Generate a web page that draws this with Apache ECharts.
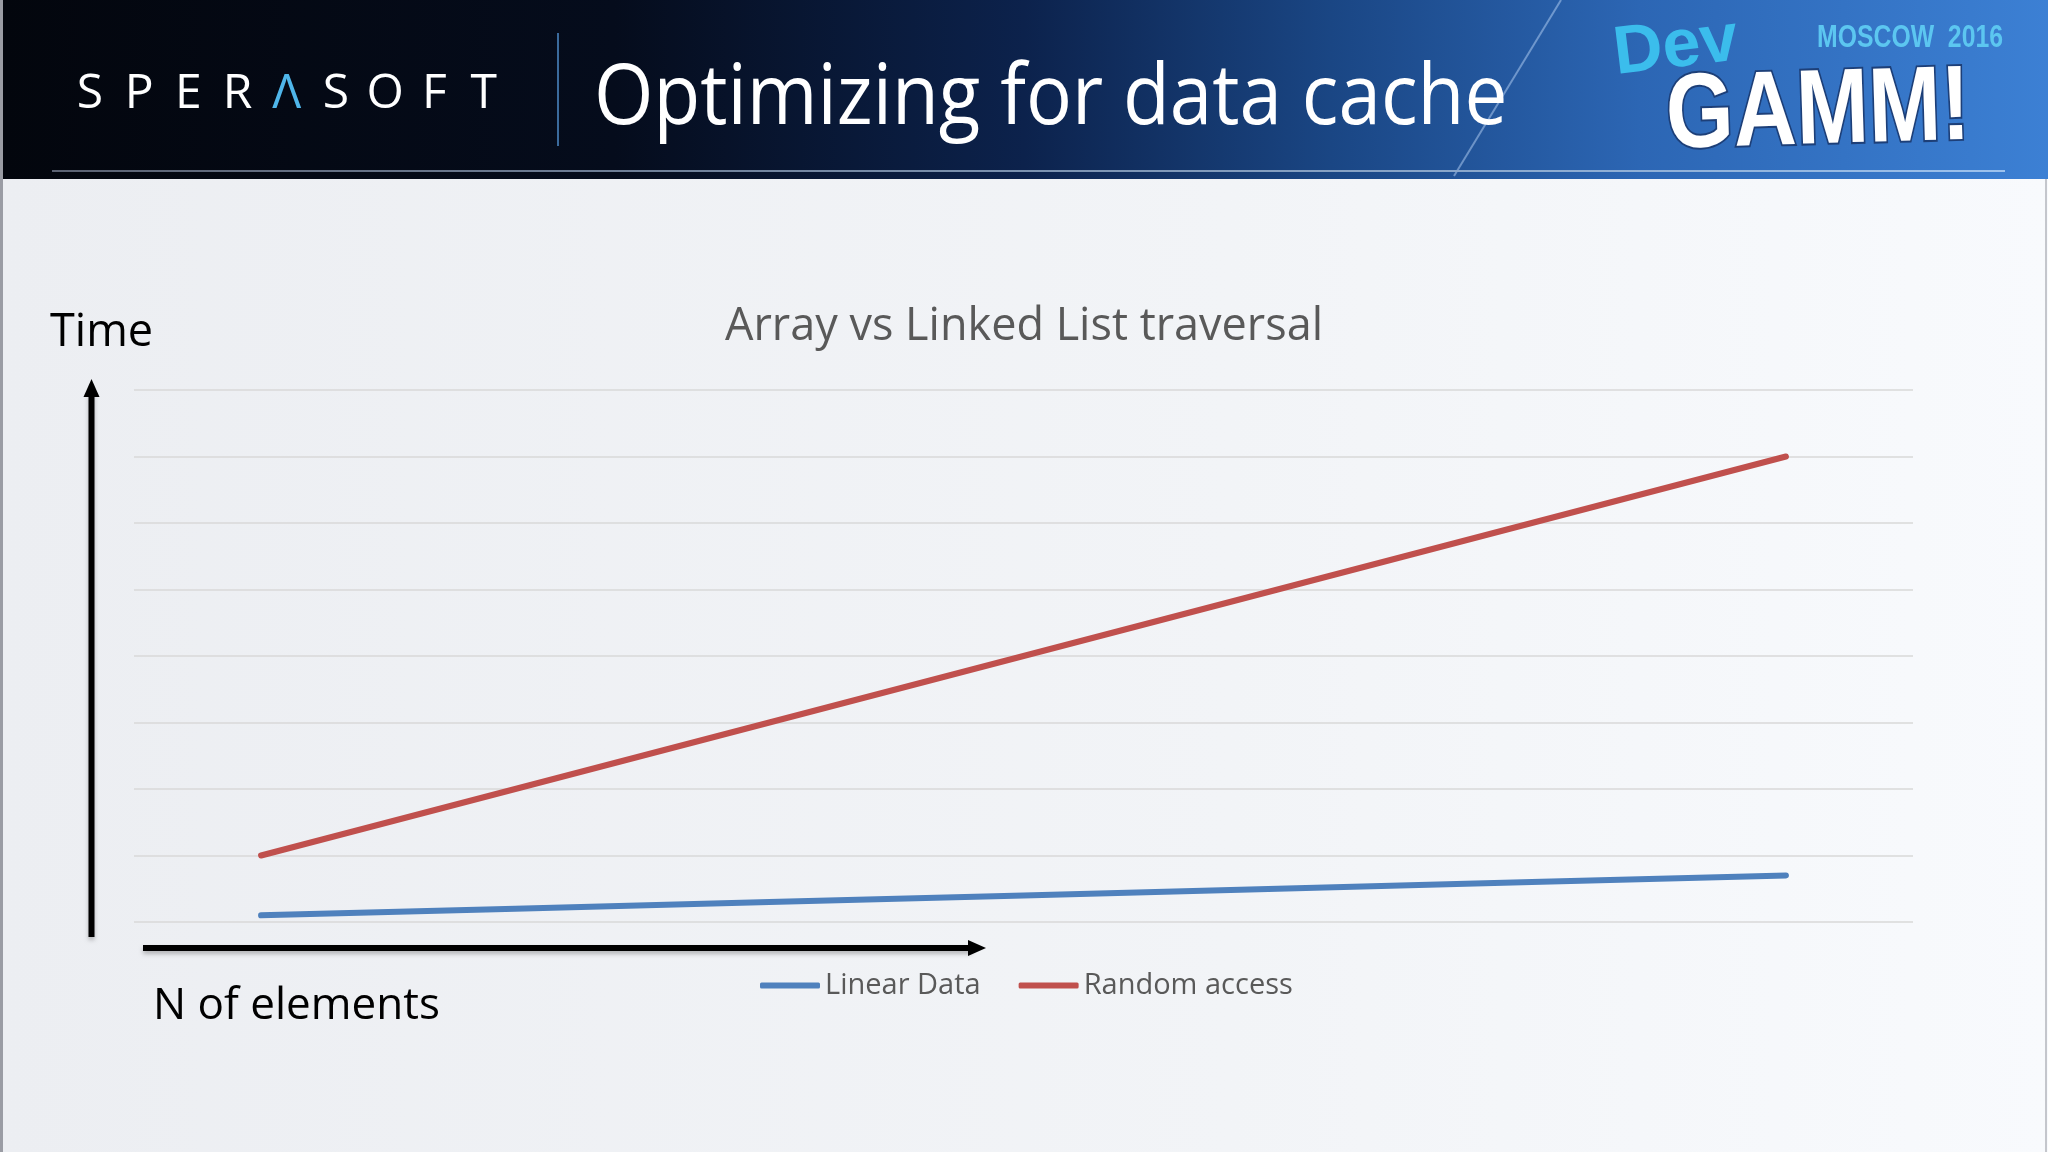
<!DOCTYPE html>
<html>
<head>
<meta charset="utf-8">
<script src="https://cdn.jsdelivr.net/npm/echarts@6/dist/echarts.min.js"></script>
<style>
html,body{margin:0;padding:0;background:#eef0f3;}
#chart{width:2048px;height:1152px;}
</style>
</head>
<body>
<div id="chart"></div>
<script>
// ---- data ----
var categories = ['1', '2', '3', '4', '5', '6', '7'];
var linearData = [0.1, 0.2, 0.3, 0.4, 0.5, 0.6, 0.7];
var randomAccess = [1, 2, 3, 4, 5, 6, 7];
var seriesNames = ['Linear Data', 'Random access'];
var chartTitle = 'Array vs Linked List traversal';
var slideTitle = 'Optimizing for data cache';
var yAxisName = 'Time';
var xAxisName = 'N of elements';
var logoLetters = ['S', 'P', 'E', 'R', 'Λ', 'S', 'O', 'F', 'T'];

var chart = echarts.init(document.getElementById('chart'));

var FONT = '"Open Sans", "Noto Sans", sans-serif';

var graphics = [];
// slide body background
graphics.push({
  type: 'rect', z: -10, silent: true,
  shape: {x: 0, y: 0, width: 2048, height: 1152},
  style: {fill: new echarts.graphic.LinearGradient(0, 0, 1, 0, [
    {offset: 0, color: '#eceef2'}, {offset: 0.6, color: '#f2f4f7'}, {offset: 1, color: '#f8fafd'}
  ])}
});
// header band
graphics.push({
  type: 'rect', z: -9, silent: true,
  shape: {x: 0, y: 0, width: 2048, height: 179},
  style: {fill: new echarts.graphic.LinearGradient(0, 0, 1, 0, [
    {offset: 0, color: '#03060d'},
    {offset: 0.3, color: '#050c1c'},
    {offset: 0.5, color: '#0c224c'},
    {offset: 0.65, color: '#1a4684'},
    {offset: 0.8, color: '#2c66b4'},
    {offset: 1, color: '#3c80d4'}
  ])}
});
// diagonal streak
graphics.push({
  type: 'line', z: -8, silent: true,
  shape: {x1: 1454, y1: 176, x2: 1561, y2: 0},
  style: {stroke: 'rgba(200,225,255,0.45)', lineWidth: 2}
});
// header bottom line
graphics.push({
  type: 'line', z: -8, silent: true,
  shape: {x1: 52, y1: 171, x2: 2005, y2: 171},
  style: {stroke: new echarts.graphic.LinearGradient(0, 0, 1, 0, [
    {offset: 0, color: '#5b6272'}, {offset: 1, color: '#9cc2ee'}
  ]), lineWidth: 2}
});
// left / right slide borders
graphics.push({type: 'rect', z: -7, silent: true, shape: {x: 0, y: 0, width: 3, height: 1152}, style: {fill: '#9a9ca4'}});
graphics.push({type: 'rect', z: -7, silent: true, shape: {x: 2045, y: 179, width: 2, height: 973}, style: {fill: '#c4c6cc'}});
// divider
graphics.push({
  type: 'line', z: -7, silent: true,
  shape: {x1: 558, y1: 33, x2: 558, y2: 146},
  style: {stroke: '#3a6a9c', lineWidth: 2}
});
// logo letters
logoLetters.forEach(function (ch, i) {
  graphics.push({
    type: 'text', z: 5, silent: true,
    x: 90 + i * 49.2, y: 94,
    style: {
      text: ch, fill: ch === 'Λ' ? '#4fb6ea' : '#ffffff',
      fontSize: 48, fontFamily: FONT, fontWeight: 'normal',
      textAlign: 'center', textVerticalAlign: 'middle'
    }
  });
});
// slide title
graphics.push({
  type: 'text', z: 5, silent: true,
  x: 594, y: 100, scaleX: 0.91,
  style: {
    text: slideTitle, fill: '#ffffff', fontSize: 84, fontFamily: FONT,
    textAlign: 'left', textVerticalAlign: 'middle'
  }
});
// DevGAMM logo
graphics.push({
  type: 'text', z: 5, silent: true,
  x: 1676, y: 48, rotation: 0.12,
  style: {
    text: 'Dev', fill: '#3bbdec', fontSize: 68, fontWeight: 'bold',
    fontFamily: '"Liberation Sans", Arial, sans-serif',
    textAlign: 'center', textVerticalAlign: 'middle'
  }
});
graphics.push({
  type: 'text', z: 5, silent: true,
  x: 1910, y: 38, scaleX: 0.8,
  style: {
    text: 'MOSCOW  2016', fill: '#5cc6f0', fontSize: 31, fontWeight: 'bold',
    fontFamily: '"Liberation Sans", Arial, sans-serif',
    textAlign: 'center', textVerticalAlign: 'middle'
  }
});
graphics.push({
  type: 'text', z: 6, silent: true,
  x: 1818, y: 114, scaleX: 0.82, rotation: 0.03,
  style: {
    text: 'GAMM!', fill: '#ffffff', fontSize: 106, fontWeight: 'bold',
    fontFamily: '"Liberation Sans", Arial, sans-serif',
    stroke: '#1d3f78', lineWidth: 4,
    textAlign: 'center', textVerticalAlign: 'middle'
  }
});
// axis arrows
var arrowShadow = {shadowColor: 'rgba(0,0,0,0.25)', shadowBlur: 4, shadowOffsetY: 3};
graphics.push({
  type: 'line', z: 6, silent: true,
  shape: {x1: 91.5, y1: 937, x2: 91.5, y2: 392},
  style: Object.assign({stroke: '#000000', lineWidth: 6}, arrowShadow)
});
graphics.push({
  type: 'polygon', z: 6, silent: true,
  shape: {points: [[91.5, 379], [83.5, 397], [99.5, 397]]},
  style: {fill: '#000000'}
});
graphics.push({
  type: 'line', z: 6, silent: true,
  shape: {x1: 143, y1: 948, x2: 972, y2: 948},
  style: Object.assign({stroke: '#000000', lineWidth: 6}, arrowShadow)
});
graphics.push({
  type: 'polygon', z: 6, silent: true,
  shape: {points: [[986, 948], [968, 940], [968, 956]]},
  style: {fill: '#000000'}
});
// axis names
graphics.push({
  type: 'text', z: 6, silent: true,
  x: 50, y: 333,
  style: {text: yAxisName, fill: '#000000', fontSize: 45, fontFamily: FONT, textAlign: 'left', textVerticalAlign: 'middle'}
});
graphics.push({
  type: 'text', z: 6, silent: true,
  x: 153, y: 1006,
  style: {text: xAxisName, fill: '#000000', fontSize: 44, fontFamily: FONT, textAlign: 'left', textVerticalAlign: 'middle'}
});

var option = {
  backgroundColor: 'transparent',
  animation: false,
  title: {
    text: chartTitle, left: 'center', top: 300,
    textStyle: {color: '#595959', fontSize: 45, fontWeight: 'normal', fontFamily: FONT}
  },
  legend: {
    data: seriesNames, left: 755, top: 966,
    icon: 'roundRect', itemWidth: 60, itemHeight: 6, itemGap: 38,
    textStyle: {color: '#595959', fontSize: 29, fontFamily: FONT}
  },
  grid: {left: 134, right: 135, top: 390, bottom: 230, containLabel: false},
  xAxis: {
    type: 'category', data: categories, boundaryGap: true,
    axisLine: {show: false}, axisTick: {show: false}, axisLabel: {show: false}, splitLine: {show: false}
  },
  yAxis: {
    type: 'value', min: 0, max: 8, interval: 1,
    axisLine: {show: false}, axisTick: {show: false}, axisLabel: {show: false},
    splitLine: {show: true, lineStyle: {color: '#d9d9d9', width: 1.5}}
  },
  series: [
    {
      name: seriesNames[0], type: 'line', data: linearData, symbol: 'none', z: 3,
      itemStyle: {color: '#4f81bd'},
      lineStyle: {color: '#4f81bd', width: 6, cap: 'round', join: 'round'}
    },
    {
      name: seriesNames[1], type: 'line', data: randomAccess, symbol: 'none', z: 3,
      itemStyle: {color: '#c0504d'},
      lineStyle: {color: '#c0504d', width: 6, cap: 'round', join: 'round'}
    }
  ],
  graphic: {elements: graphics}
};
chart.setOption(option);
</script>
</body>
</html>
